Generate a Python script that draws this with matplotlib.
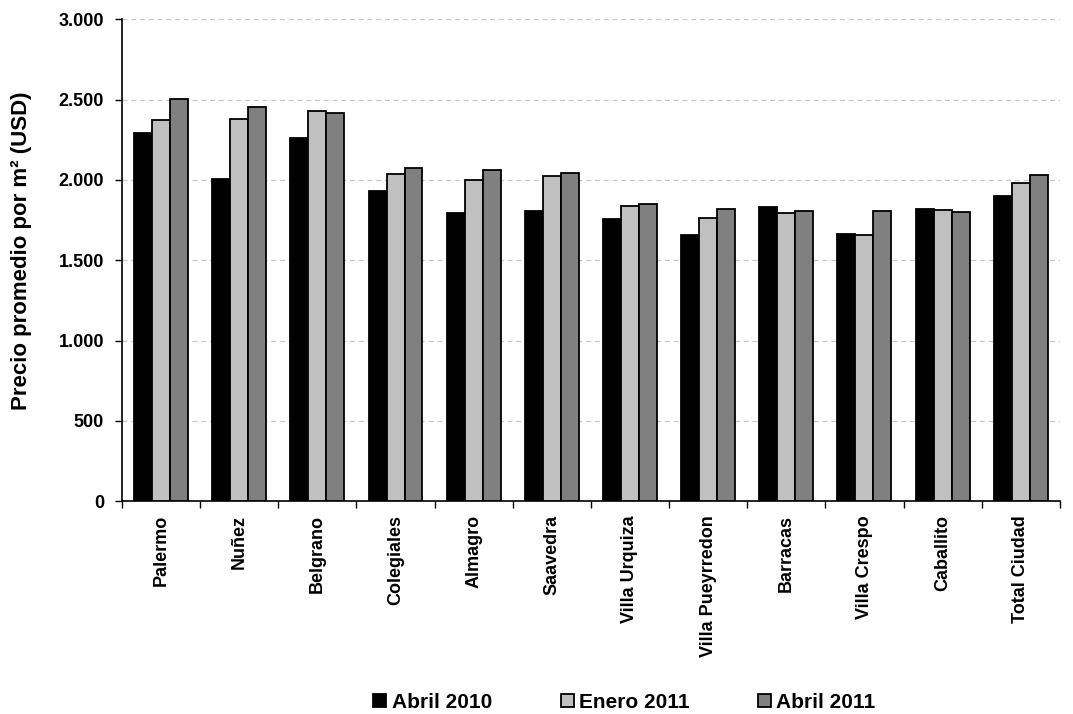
import matplotlib
matplotlib.use("Agg")
import matplotlib.pyplot as plt
import numpy as np
from matplotlib.ticker import FuncFormatter, FixedLocator

barrios = ['Palermo', 'Nuñez', 'Belgrano', 'Colegiales', 'Almagro', 'Saavedra',
           'Villa Urquiza', 'Villa Pueyrredon', 'Barracas', 'Villa Crespo',
           'Caballito', 'Total Ciudad']
abril_2010 = [2291, 2008, 2263, 1933, 1796, 1804, 1758, 1656, 1833, 1666, 1819, 1898]
enero_2011 = [2375, 2381, 2431, 2037, 2002, 2027, 1837, 1762, 1794, 1658, 1810, 1981]
abril_2011 = [2506, 2454, 2416, 2075, 2062, 2044, 1852, 1821, 1808, 1804, 1802, 2033]

series = [('Abril 2010', abril_2010, '#000000'),
          ('Enero 2011', enero_2011, '#c0c0c0'),
          ('Abril 2011', abril_2011, '#808080')]

plt.rcParams['font.family'] = 'Liberation Sans'
plt.rcParams['font.weight'] = 'bold'

fig = plt.figure(figsize=(10.73, 7.14), dpi=100)
ax = fig.add_axes([0.1137, 0.298, 0.874, 0.675])

x = np.arange(len(barrios))
ancho = 0.23
for i, (nombre, valores, color) in enumerate(series):
    ax.bar(x + (i - 1) * ancho, valores, ancho, color=color, edgecolor='black',
           linewidth=1.3, label=nombre, zorder=3)

ax.set_xlim(-0.5, len(barrios) - 0.5)
ax.set_ylim(0, 3000)
ax.set_yticks(range(0, 3001, 500))
ax.yaxis.set_major_formatter(FuncFormatter(lambda v, p: f'{int(v):,}'.replace(',', '.')))
ax.grid(axis='y', linestyle=(0, (4, 3)), color='#c8c8c8', linewidth=0.9, zorder=0)

ax.set_xticks(x)
ax.set_xticklabels(barrios, rotation=90, fontsize=13, fontweight='bold')
ax.xaxis.set_minor_locator(FixedLocator(np.arange(-0.5, len(barrios), 1.0)))
ax.tick_params(axis='x', which='major', length=0, pad=10)
ax.tick_params(axis='x', which='minor', length=5, width=1.0, direction='out')
ax.tick_params(axis='y', labelsize=13, length=5, width=1.0, direction='out', pad=8)

for s in ['top', 'right']:
    ax.spines[s].set_visible(False)
for s in ['left', 'bottom']:
    ax.spines[s].set_linewidth(1.2)

ax.set_ylabel('Precio promedio por m² (USD)', fontsize=16, fontweight='bold')
ax.yaxis.set_label_coords(-0.096, 0.519)

# leyenda centrada bajo los nombres de los barrios
fig.legend(loc='center', bbox_to_anchor=(0.582, 0.016), ncol=3, frameon=False,
           fontsize=15, handlelength=0.62, handleheight=0.62, handletextpad=0.25,
           columnspacing=3.3)

fig.savefig('out.png', dpi=100)
